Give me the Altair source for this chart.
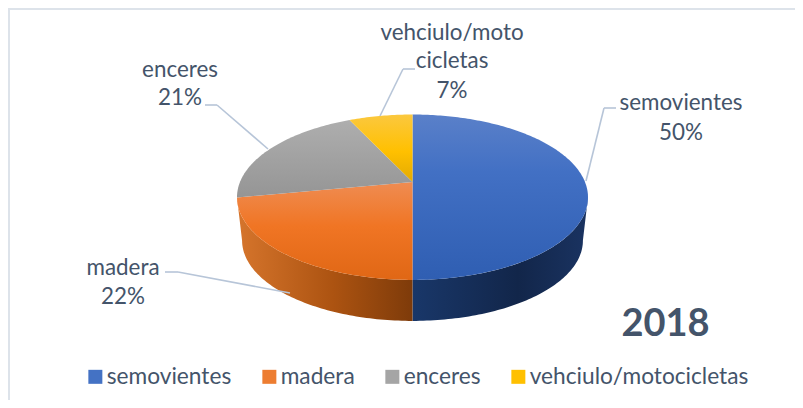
import math
import altair as alt

categories = ["semovientes", "madera", "enceres", "vehciulo/motocicletas"]
values = [50, 22, 21, 7]
label_lines = [["semovientes", "50%"], ["madera", "22%"], ["enceres", "21%"], ["vehciulo/moto", "cicletas", "7%"]]
legend_colors = ["#4472C4", "#ED7D31", "#A5A5A5", "#FFC000"]
top_stops = [
    [("#5A80C9", 0), ("#4270C4", 0.35), ("#2F5EB2", 1)],
    [("#EF8C52", 0), ("#F07524", 0.45), ("#E06715", 1)],
    [("#AEAEAE", 0), ("#959595", 1)],
    [("#FBC83F", 0), ("#FFC000", 0.55), ("#E3AA02", 1)],
]
wall_stops = {
    0: [("#193769", 0), ("#12264A", 0.6), ("#1A3361", 1)],
    1: [("#D6752C", 0), ("#AC5311", 0.55), ("#7E3B0A", 1)],
}
title_text = "2018"
font = "Lato"
ink = "#44546A"
leader = "#B7C5D8"
frame = "#DDE3EA"

W, H = 787, 392
OX, OY = 8, 8
CX, KK = 412.5, 0.184


def rim(theta, y0, a, b):
    u, v = math.sin(theta), math.cos(theta)
    d = 1 + KK * v
    return [CX + a * u / d - OX, y0 - b * v / d - OY]


def top_pt(theta):
    return rim(theta, 182.0, 172.5, 79.9)


def low_pt(theta):
    return rim(theta, 225.8, 167.5, 77.6)


def arc(fn, t0, t1):
    n = max(2, int(abs(t1 - t0) / math.radians(1)))
    return [fn(t0 + (t1 - t0) * i / n) for i in range(n + 1)]


def polygon(ring, name):
    ring = ring + [ring[0]]
    return {"type": "Feature", "properties": {"name": name}, "geometry": {"type": "Polygon", "coordinates": [ring]}}


def grad(stops, horizontal=False):
    return alt.Gradient(
        gradient="linear",
        x1=0, y1=0,
        x2=1 if horizontal else 0,
        y2=0 if horizontal else 1,
        stops=[alt.GradientStop(color=c, offset=o) for c, o in stops],
    )


proj = alt.Projection(type="identity", scale=1, translate=[0, 0])
total = sum(values)
edges = [0.0]
for val in values:
    edges.append(edges[-1] + 2 * math.pi * val / total)

layers = []
silhouette = math.radians(100.6)
for i, (t0, t1) in enumerate(zip(edges[:-1], edges[1:])):
    if i in wall_stops:
        s0, s1 = max(t0, silhouette), min(t1, 2 * math.pi - silhouette)
        ring = arc(top_pt, s0, s1) + arc(low_pt, s1, s0)
        layers.append(
            alt.Chart(alt.Data(values=[polygon(ring, categories[i] + " wall")]))
            .mark_geoshape(fill=grad(wall_stops[i], True), stroke=None)
            .project(**proj.to_dict())
        )
for i, (t0, t1) in enumerate(zip(edges[:-1], edges[1:])):
    ring = [[CX - OX, 182.0 - OY]] + arc(top_pt, t0, t1)
    layers.append(
        alt.Chart(alt.Data(values=[polygon(ring, categories[i])]))
        .mark_geoshape(fill=grad(top_stops[i]), stroke=None)
        .project(**proj.to_dict())
    )


def seg(x1, y1, x2, y2, color=leader, width=1.6):
    return (
        alt.Chart(alt.Data(values=[{"a": 1}]))
        .mark_rule(color=color, strokeWidth=width)
        .encode(x=alt.value(x1 - OX), y=alt.value(y1 - OY), x2=alt.value(x2 - OX), y2=alt.value(y2 - OY))
    )


layers.append(seg(8, 9, 795, 9, frame, 2))
layers.append(seg(9, 8, 9, 400, frame, 2))

for s in [
    (586, 181, 604, 108), (604, 108, 616, 108),
    (165, 272, 178, 272), (178, 272, 290, 293),
    (205, 105, 217, 105), (217, 105, 268, 149),
    (415, 69, 403, 69), (403, 69, 380, 116),
]:
    layers.append(seg(*s))


def txt(s, x, y, size=22.4, weight="normal"):
    return (
        alt.Chart(alt.Data(values=[{"t": s}]))
        .mark_text(font=font, fontSize=size, fontWeight=weight, color=ink, align="center", baseline="middle")
        .encode(text="t:N", x=alt.value(x - OX), y=alt.value(y - OY))
    )


label_pos = [
    (681, [103, 133]),
    (123, [268, 297]),
    (180, [70, 98]),
    (452, [33, 61, 91]),
]
for lines, (x, ys) in zip(label_lines, label_pos):
    for line, y in zip(lines, ys):
        layers.append(txt(line, x, y))
layers.append(txt(title_text, 665.5, 325, 38, "bold"))

legend_chart = (
    alt.Chart(alt.Data(values=[{"c": c} for c in categories]))
    .mark_point(opacity=0, filled=True)
    .encode(
        x=alt.value(0),
        y=alt.value(0),
        color=alt.Color(
            "c:N",
            scale=alt.Scale(domain=categories, range=legend_colors),
            legend=alt.Legend(
                orient="none",
                legendX=84 - OX,
                legendY=365 - OY,
                direction="horizontal",
                columns=4,
                title=None,
                symbolType="square",
                symbolSize=196,
                symbolOpacity=1,
                symbolStrokeWidth=0,
                labelFont=font,
                labelFontSize=22.7,
                labelColor=ink,
                labelLimit=400,
                columnPadding=26,
                labelOffset=0,
            ),
        ),
    )
)
layers.append(legend_chart)

chart = (
    alt.layer(*layers)
    .properties(
        width=W, height=H, padding=0, background="white",
        autosize=alt.AutoSizeParams(type="none"),
    )
    .configure_view(stroke=None)
)
chart.save("out.html", embed_options={"renderer": "svg", "actions": False})
